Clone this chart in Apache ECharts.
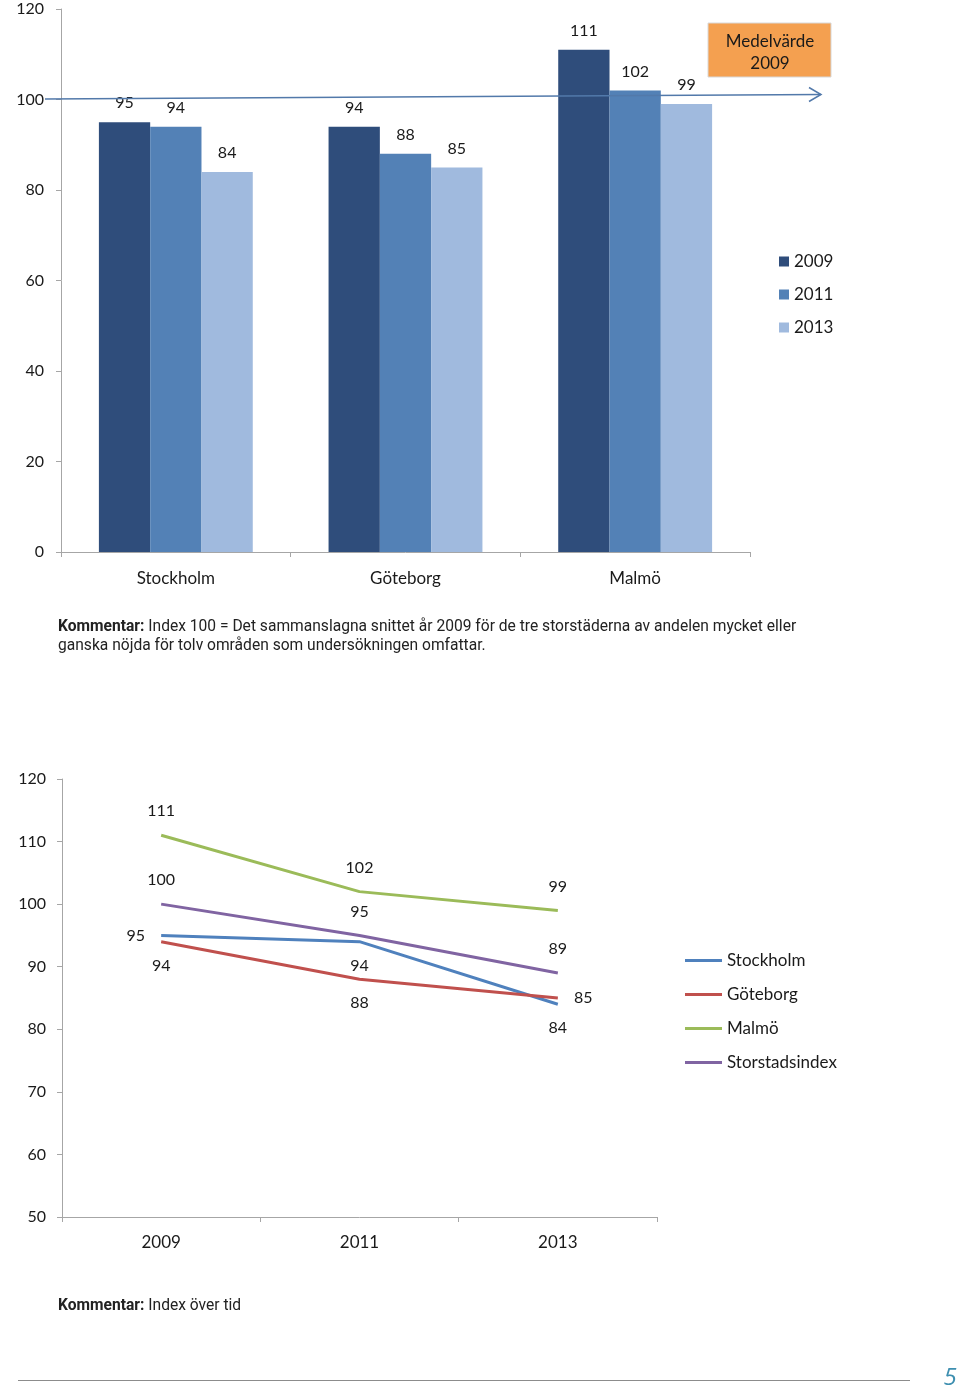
<!DOCTYPE html>
<html>
<head>
<meta charset="utf-8">
<script src="https://cdn.jsdelivr.net/npm/echarts@6/dist/echarts.min.js"></script>
<style>
html,body{margin:0;padding:0;background:#fff;}
#c{width:960px;height:1390px;}
</style>
</head>
<body>
<div id="c"></div>
<script>
// ---- Data ----
var barCities = ['Stockholm', 'Göteborg', 'Malmö'];
var barYears = ['2009', '2011', '2013'];
var bar2009 = [95, 94, 111];
var bar2011 = [94, 88, 102];
var bar2013 = [84, 85, 99];

var lineYears = ['2009', '2011', '2013'];
var lineStockholm = [95, 94, 84];
var lineGoteborg = [94, 88, 85];
var lineMalmo = [111, 102, 99];
var lineStorstad = [100, 95, 89];
var lineNames = ['Stockholm', 'Göteborg', 'Malmö', 'Storstadsindex'];

var FONT = 'Lato';
var CFONT = 'Roboto';
var TXT = '#1a1a1a';
var AX = '#a6a6a6';

function withPos(values, positions) {
  return values.map(function (v, i) {
    return { value: v, label: { position: positions[i] } };
  });
}

var chart = echarts.init(document.getElementById('c'));
var barColors = ['#2F4D7B', '#5381B6', '#A0BADE'];
var lineColors = ['#4F81BD', '#C0504D', '#9BBB59', '#8064A2'];

var barLabel = { show: true, position: 'top', distance: 11, fontFamily: FONT, fontSize: 16, color: TXT };
var lineLabel = { show: true, position: 'top', distance: 16, fontFamily: FONT, fontSize: 16, color: TXT };

function lineSeries(idx, values, positions) {
  return {
    name: lineNames[idx], type: 'line', xAxisIndex: 1, yAxisIndex: 1,
    showSymbol: true, symbol: 'circle', symbolSize: 0.1,
    data: withPos(values, positions),
    lineStyle: { color: lineColors[idx], width: 3 },
    itemStyle: { color: lineColors[idx] },
    label: lineLabel,
    emphasis: { disabled: true }
  };
}

var option = {
  animation: false,
  backgroundColor: '#fff',
  textStyle: { fontFamily: FONT },
  legend: [
    {
      data: barYears,
      orient: 'vertical',
      left: 774, top: 248,
      icon: 'rect', itemWidth: 10, itemHeight: 10,
      itemGap: 16,
      textStyle: { fontFamily: FONT, fontSize: 17, color: TXT, lineHeight: 17 }
    },
    {
      data: lineNames,
      orient: 'vertical',
      left: 680, top: 947,
      icon: 'rect', itemWidth: 37, itemHeight: 3,
      itemGap: 17,
      textStyle: { fontFamily: FONT, fontSize: 17, color: TXT, lineHeight: 17 }
    }
  ],
  grid: [
    { left: 61, top: 9, width: 689, height: 543 },
    { left: 62, top: 779, width: 595, height: 438 }
  ],
  xAxis: [
    {
      gridIndex: 0, type: 'category', data: barCities,
      axisLine: { lineStyle: { color: AX } },
      axisTick: { show: true, length: 5, lineStyle: { color: AX } },
      axisLabel: { fontFamily: FONT, fontSize: 17, color: TXT, margin: 18 }
    },
    {
      gridIndex: 1, type: 'category', data: lineYears, boundaryGap: true,
      axisLine: { lineStyle: { color: AX } },
      axisTick: { show: true, length: 5, lineStyle: { color: AX } },
      axisLabel: { fontFamily: FONT, fontSize: 17, color: TXT, margin: 17 }
    }
  ],
  yAxis: [
    {
      gridIndex: 0, type: 'value', min: 0, max: 120, interval: 20,
      axisLine: { show: true, lineStyle: { color: AX } },
      axisTick: { show: true, length: 5, lineStyle: { color: AX } },
      splitLine: { show: false },
      axisLabel: { fontFamily: FONT, fontSize: 16, color: TXT, margin: 17 }
    },
    {
      gridIndex: 1, type: 'value', min: 50, max: 120, interval: 10,
      axisLine: { show: true, lineStyle: { color: AX } },
      axisTick: { show: true, length: 5, lineStyle: { color: AX } },
      splitLine: { show: false },
      axisLabel: { fontFamily: FONT, fontSize: 16, color: TXT, margin: 16 }
    }
  ],
  series: [
    { name: barYears[0], type: 'bar', xAxisIndex: 0, yAxisIndex: 0, data: bar2009, itemStyle: { color: barColors[0] }, barGap: '0%', barCategoryGap: '33%', label: barLabel },
    { name: barYears[1], type: 'bar', xAxisIndex: 0, yAxisIndex: 0, data: bar2011, itemStyle: { color: barColors[1] }, barGap: '0%', barCategoryGap: '33%', label: barLabel },
    { name: barYears[2], type: 'bar', xAxisIndex: 0, yAxisIndex: 0, data: bar2013, itemStyle: { color: barColors[2] }, barGap: '0%', barCategoryGap: '33%', label: barLabel },
    lineSeries(0, lineStockholm, ['left', 'bottom', 'bottom']),
    lineSeries(1, lineGoteborg, ['bottom', 'bottom', 'right']),
    lineSeries(2, lineMalmo, ['top', 'top', 'top']),
    lineSeries(3, lineStorstad, ['top', 'top', 'top'])
  ],
  graphic: [
    // arrow for Medelvärde 2009
    { type: 'line', z: 100, shape: { x1: 45, y1: 99, x2: 821, y2: 94.5 }, style: { stroke: '#5279AA', lineWidth: 1.5 } },
    { type: 'polyline', z: 100, shape: { points: [[809, 87.5], [821, 94.5], [809, 101.5]] }, style: { stroke: '#5279AA', lineWidth: 1.5, fill: null } },
    { type: 'rect', z: 100, shape: { x: 708, y: 23, width: 123, height: 54 }, style: { fill: '#F4A050', stroke: '#D8D8D8', lineWidth: 1 } },
    { type: 'text', z: 101, x: 770, y: 53, style: { text: 'Medelvärde\n2009', fontFamily: FONT, fontSize: 17, lineHeight: 22, fill: TXT, align: 'center', verticalAlign: 'middle' } },
    // comments
    { type: 'text', x: 58, y: 618, style: {
        text: '{b|Kommentar:} Index 100 = Det sammanslagna snittet år 2009 för de tre storstäderna av andelen mycket eller\nganska nöjda för tolv områden som undersökningen omfattar.',
        fontFamily: CFONT, fontSize: 15.6, lineHeight: 19, fill: '#222',
        rich: { b: { fontWeight: 'bold', fontFamily: CFONT, fontSize: 15.6, fill: '#222' } }
      } },
    { type: 'text', x: 58, y: 1297, style: {
        text: '{b|Kommentar:} Index över tid',
        fontFamily: CFONT, fontSize: 15.6, lineHeight: 19, fill: '#222',
        rich: { b: { fontWeight: 'bold', fontFamily: CFONT, fontSize: 15.6, fill: '#222' } }
      } },
    // footer
    { type: 'line', shape: { x1: 18, y1: 1380.5, x2: 910, y2: 1380.5 }, style: { stroke: '#8c8c8c', lineWidth: 1 } },
    { type: 'text', x: 950, y: 1378, style: { text: '5', fontFamily: 'Open Sans', fontStyle: 'italic', fontSize: 24, fill: '#3E8FB0', align: 'center', verticalAlign: 'middle' } }
  ]
};
chart.setOption(option);
</script>
</body>
</html>
